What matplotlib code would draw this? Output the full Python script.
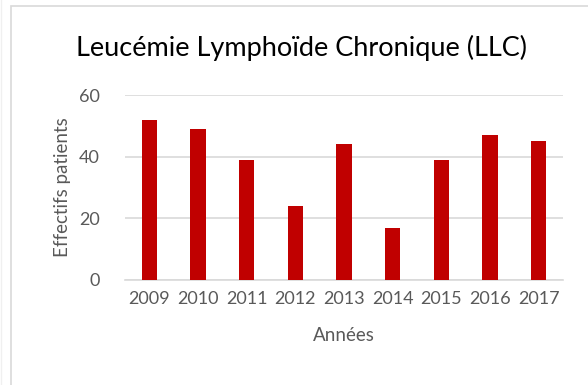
import matplotlib.pyplot as plt
from matplotlib.patches import Rectangle

annees = ['2009', '2010', '2011', '2012', '2013', '2014', '2015', '2016', '2017']
effectifs = [52, 49, 39, 24, 44, 17, 39, 47, 45]

plt.rcParams['font.family'] = ['Lato', 'DejaVu Sans']

fig = plt.figure(figsize=(5.88, 3.85), dpi=100)
ax = fig.add_axes([125 / 588, 1 - 280 / 385, 438 / 588, 185 / 385])

# cadre du graphique
fig.patches.append(Rectangle((11 / 588, -0.1), 1.2, 1 - 6 / 385 + 0.1, transform=fig.transFigure,
                             fill=False, edgecolor='#d9d9d9', linewidth=1.2))
fig.patches.append(Rectangle((0.5 / 588, -0.1), 1.5, 1.2, transform=fig.transFigure,
                             fill=False, edgecolor='#f0f0f0', linewidth=1.0))

x = range(len(annees))
ax.bar(x, effectifs, width=0.32, color='#c00000', zorder=3)

ax.set_xlim(-0.5, len(annees) - 0.5)
ax.set_ylim(0, 60)
ax.set_yticks([0, 20, 40, 60])
ax.set_xticks(list(x))
ax.set_xticklabels(annees)
ax.grid(axis='y', color='#d9d9d9', linewidth=1.2, zorder=0)
for s in ['top', 'right', 'left']:
    ax.spines[s].set_visible(False)
ax.spines['bottom'].set_color('#d9d9d9')
ax.spines['bottom'].set_linewidth(1.2)
ax.tick_params(length=0, labelsize=13, labelcolor='#595959', pad=8)
ax.tick_params(axis='y', pad=18)

ax.set_ylabel('Effectifs patients', fontsize=13.5, color='#595959', labelpad=6)
ax.set_xlabel('Années', fontsize=13.5, color='#595959', labelpad=14)
fig.text(0.512, 1 - 48 / 385, 'Leucémie Lymphoïde Chronique (LLC)', ha='center', va='center',
         fontsize=19.5, color='#000000')

fig.savefig('out.png', dpi=100, facecolor='white')
